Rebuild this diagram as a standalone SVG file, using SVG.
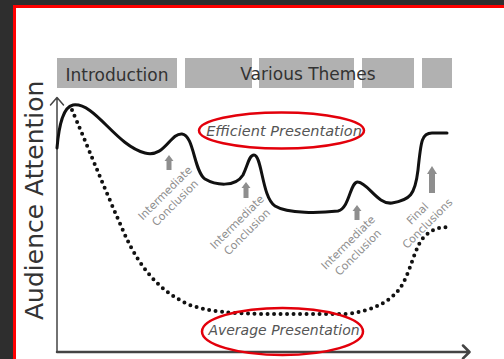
<svg xmlns="http://www.w3.org/2000/svg" width="504" height="359" viewBox="0 0 504 359">
<style>
.hdr{fill:#b1b1b1}
.ht{font-family:"DejaVu Sans",Verdana,sans-serif;font-size:17px;fill:#333}
.lbl{font-family:"DejaVu Sans",Verdana,sans-serif;font-size:11px;fill:#8e8e8e;text-anchor:middle}
.arw{fill:#8e8e8e}
.pres{font-family:"DejaVu Sans",Verdana,sans-serif;font-style:italic;fill:#555;text-anchor:middle}
.ell{fill:none;stroke:#e3000b;stroke-width:2.5}
.ax{fill:none;stroke:#444;stroke-linecap:round;stroke-linejoin:round}
</style>
<rect x="0" y="0" width="504" height="359" fill="#2e2e2e"/>
<rect x="14.5" y="6.5" width="500" height="360" fill="#fff" stroke="#f00" stroke-width="3"/>

<g id="header-introduction">
<rect class="hdr" x="57" y="58" width="120" height="30"/>
<text class="ht" x="117" y="81" text-anchor="middle">Introduction</text>
</g>
<g id="header-themes">
<rect class="hdr" x="185" y="58" width="67" height="30"/>
<rect class="hdr" x="259" y="58" width="95" height="30"/>
<rect class="hdr" x="362" y="58" width="52" height="30"/>
<rect class="hdr" x="422" y="58" width="30" height="30"/>
<text class="ht" x="308" y="80" text-anchor="middle">Various Themes</text>
</g>

<g id="y-axis-label">
<text x="43" y="320" transform="rotate(-90 43 320)" font-family="DejaVu Sans,Verdana,sans-serif" font-size="25" fill="#333">Audience Attention</text>
</g>

<g id="axes">
<path class="ax" stroke-width="1.5" d="M57,352 V98 M50.5,105 L57,97.5 L63.5,105"/>
<path class="ax" stroke="#555" stroke-width="2.5" d="M57,352 H469 M463,345.5 L469.5,352 L463,358.5"/>
</g>

<g id="connectors">
<path id="efficient-curve" fill="none" stroke="#111" stroke-width="3" stroke-linecap="round" stroke-linejoin="round"
 d="M57,148 C59,125 63,107 73,105 C95,102 115,145 145,153 C165,158 170,133 182,134 C194,135 194,172 205,179 C215,185 235,188 243,175 C248,165 249,155 254,155 C262,155 262,198 275,206 C288,214 320,213 338,211 C350,208 350,181 358,182 C368,183 378,205 392,203 C410,200 415,195 418,170 C421,140 422,133 432,133 L447,133"/>
<path id="average-curve" fill="none" stroke="#111" stroke-width="4" stroke-linecap="round" stroke-dasharray="0 6.5"
 d="M72,110 C85,140 105,190 125,235 C140,268 160,292 190,305 C210,312 230,313 260,314 L345,314 C370,312 392,302 402,285 C412,268 415,245 425,236 C432,229 440,227 450,227"/>
</g>

<g id="conclusion-1">
<polygon class="arw" points="169,155 173.5,161 171.5,161 171.5,170 166.5,170 166.5,161 164.5,161"/>
<g transform="translate(169.5 197.5) rotate(-45)">
<text class="lbl" x="0" y="-2.5">Intermediate</text>
<text class="lbl" x="0" y="11.5">Conclusion</text>
</g>
</g>
<g id="conclusion-2">
<polygon class="arw" points="246,182 250.5,188 248.5,188 248.5,198 243.5,198 243.5,188 241.5,188"/>
<g transform="translate(241.5 226.5) rotate(-45)">
<text class="lbl" x="0" y="-2.5">Intermediate</text>
<text class="lbl" x="0" y="11.5">Conclusion</text>
</g>
</g>
<g id="conclusion-3">
<polygon class="arw" points="357,205 361.5,211 359.5,211 359.5,220 354.5,220 354.5,211 352.5,211"/>
<g transform="translate(352.5 247) rotate(-45)">
<text class="lbl" x="0" y="-2.5">Intermediate</text>
<text class="lbl" x="0" y="11.5">Conclusion</text>
</g>
</g>
<g id="final-conclusions">
<polygon class="arw" points="432,166 437,174 435,174 435,193 429,193 429,174 427,174"/>
<g transform="translate(422 218) rotate(-45)">
<text class="lbl" x="0" y="-2.5">Final</text>
<text class="lbl" x="0" y="11.5">Conclusions</text>
</g>
</g>

<g id="efficient-presentation">
<ellipse class="ell" cx="281.5" cy="130.5" rx="82.5" ry="18"/>
<text class="pres" x="284" y="136" font-size="14.5">Efficient Presentation</text>
</g>
<g id="average-presentation">
<ellipse class="ell" cx="282.5" cy="331.5" rx="80.5" ry="23.5"/>
<text class="pres" x="284" y="335" font-size="14">Average Presentation</text>
</g>
</svg>
